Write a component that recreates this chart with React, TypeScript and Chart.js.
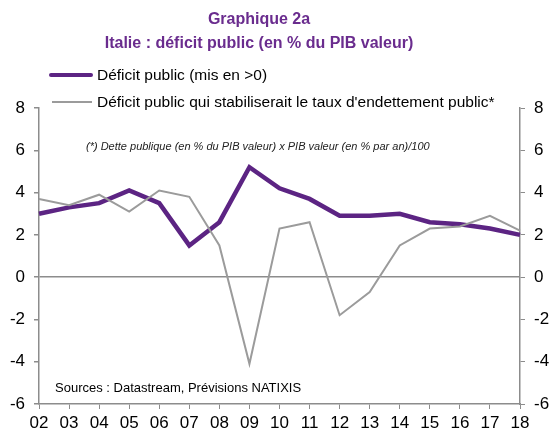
import React, { useEffect, useRef } from "react";
import { Chart, registerables } from "chart.js";

Chart.register(...registerables);

const years = ["02","03","04","05","06","07","08","09","10","11","12","13","14","15","16","17","18"];
const deficit = [3.0, 3.3, 3.5, 4.1, 3.5, 1.5, 2.6, 5.2, 4.2, 3.7, 2.9, 2.9, 3.0, 2.6, 2.5, 2.3, 2.0];
const stabilising = [3.7, 3.4, 3.9, 3.1, 4.1, 3.8, 1.5, -4.1, 2.3, 2.6, -1.8, -0.7, 1.5, 2.3, 2.4, 2.9, 2.2];
const titleLines = ["Graphique 2a", "Italie : déficit public (en % du PIB valeur)"];
const legendLabels = ["Déficit public (mis en >0)", "Déficit public qui stabiliserait le taux d'endettement public*"];
const noteText = "(*) Dette publique (en % du PIB valeur) x PIB valeur (en % par an)/100";
const sourceText = "Sources : Datastream, Prévisions NATIXIS";

const PURPLE = "#5C2483";
const GREY = "#9B9B9B";
const AXIS = "#8C8C8C";
const FONT = "'Liberation Sans', Arial, sans-serif";

export default function App() {
  const ref = useRef<HTMLCanvasElement | null>(null);
  useEffect(() => {
    document.body.style.margin = "0";
    const canvas = ref.current!;
    const textPlugin = {
      id: "texts",
      afterDraw(chart: any) {
        const ctx = chart.ctx;
        ctx.save();
        ctx.fillStyle = "#6A2C8E";
        ctx.font = `bold 16px ${FONT}`;
        ctx.textAlign = "center";
        ctx.textBaseline = "alphabetic";
        ctx.fillText(titleLines[0], 259, 24);
        ctx.fillText(titleLines[1], 259, 48);
        // legend
        ctx.textAlign = "left";
        ctx.font = `15.5px ${FONT}`;
        ctx.fillStyle = "#000";
        ctx.lineCap = "round";
        ctx.strokeStyle = PURPLE;
        ctx.lineWidth = 4;
        ctx.beginPath(); ctx.moveTo(51, 75); ctx.lineTo(91, 75); ctx.stroke();
        ctx.fillText(legendLabels[0], 97, 80);
        ctx.strokeStyle = GREY;
        ctx.lineWidth = 2;
        ctx.lineCap = "butt";
        ctx.beginPath(); ctx.moveTo(52, 102); ctx.lineTo(92, 102); ctx.stroke();
        ctx.fillText(legendLabels[1], 97, 107);
        // note
        ctx.font = `italic 11px ${FONT}`;
        ctx.fillStyle = "#222";
        ctx.fillText(noteText, 86, 150);
        ctx.font = `13px ${FONT}`;
        ctx.fillStyle = "#000";
        ctx.fillText(sourceText, 55, 392);
        ctx.restore();
      },
    };
    const chart = new Chart(canvas, {
      type: "line",
      data: {
        labels: years,
        datasets: [
          { label: legendLabels[1], data: stabilising, borderColor: GREY, borderWidth: 2, pointRadius: 0, tension: 0, yAxisID: "y" },
          { label: legendLabels[0], data: deficit, borderColor: PURPLE, borderWidth: 4.5, pointRadius: 0, tension: 0, yAxisID: "y" },
        ],
      },
      options: {
        responsive: false,
        animation: false,
        layout: { padding: { top: 108, left: 0, right: 0, bottom: 0 } },
        plugins: { legend: { display: false }, title: { display: false }, tooltip: { enabled: false } },
        scales: {
          x: {
            offset: false,
            grid: { drawOnChartArea: false, tickColor: AXIS, tickLength: 5 },
            border: { color: AXIS, width: 1.5 },
            ticks: { color: "#000", font: { size: 17, family: FONT }, padding: 4, maxRotation: 0, autoSkip: false },
            afterFit(s: any) { s.height = 28; },
          },
          y: {
            position: "left",
            min: -6, max: 8,
            grid: {
              color: (c: any) => (c.tick && c.tick.value === 0 ? AXIS : "rgba(0,0,0,0)"),
              tickColor: AXIS, tickLength: 5, lineWidth: 1.5,
            },
            border: { color: AXIS, width: 1.5 },
            ticks: { stepSize: 2, color: "#000", font: { size: 17, family: FONT }, padding: 9 },
            afterFit(s: any) { s.width = 39; },
          },
          y2: {
            position: "right",
            min: -6, max: 8,
            grid: { drawOnChartArea: false, tickColor: AXIS, tickLength: 5 },
            border: { color: AXIS, width: 1.5 },
            ticks: { stepSize: 2, color: "#000", font: { size: 17, family: FONT }, padding: 9 },
            afterFit(s: any) { s.width = 30; },
          },
        },
      },
      plugins: [textPlugin],
    });
    return () => chart.destroy();
  }, []);
  return <canvas ref={ref} width={550} height={432} style={{ display: "block" }} />;
}
